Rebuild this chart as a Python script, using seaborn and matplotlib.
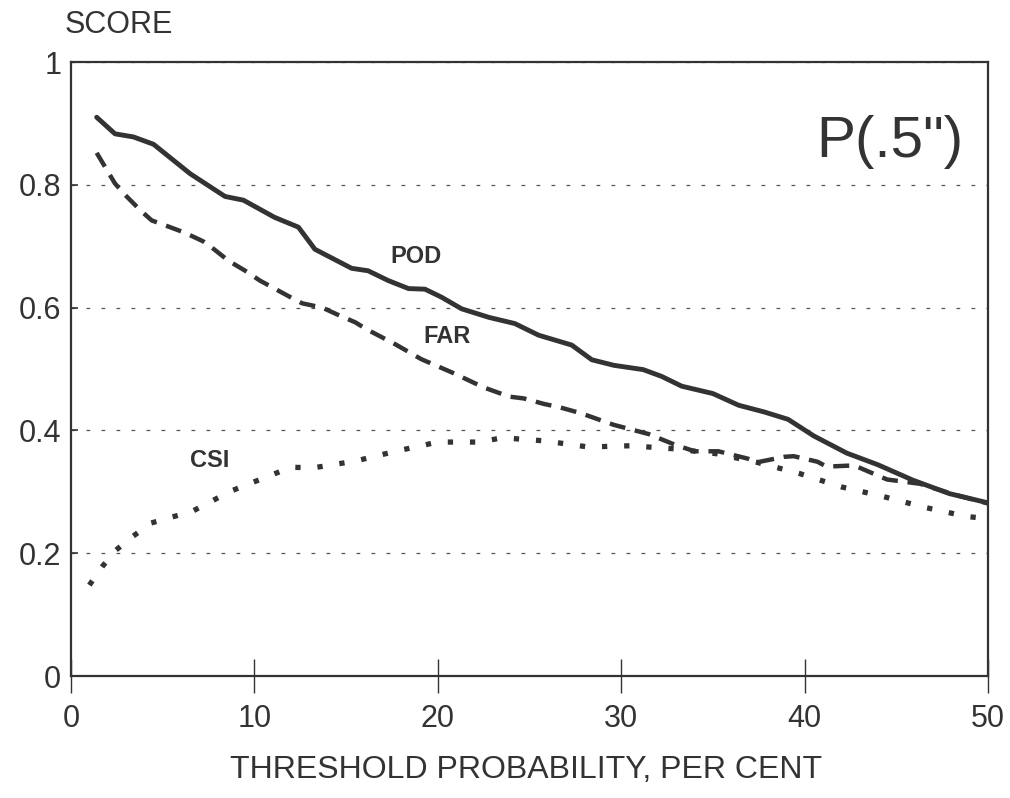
import matplotlib
matplotlib.use('Agg')
import matplotlib.pyplot as plt
import seaborn as sns

# values (threshold %, score)
pod_x = [1.4, 2.4, 3.4, 4.5, 6.5, 8.4, 9.4, 11.1, 12.4, 13.3, 15.3, 16.2, 17.3, 18.4, 19.3,
         20.2, 21.3, 22.8, 24.2, 25.5, 27.3, 28.4, 29.6, 31.2, 32.2, 33.3, 35.0, 36.4, 37.8,
         39.1, 40.5, 42.3, 44.0, 45.9, 47.9, 50.0]
pod_y = [0.910, 0.883, 0.878, 0.866, 0.818, 0.781, 0.775, 0.747, 0.731, 0.695, 0.664, 0.660,
         0.644, 0.631, 0.630, 0.617, 0.598, 0.584, 0.574, 0.555, 0.539, 0.515, 0.506, 0.499,
         0.488, 0.472, 0.460, 0.441, 0.430, 0.418, 0.391, 0.363, 0.344, 0.319, 0.297, 0.282]

far_x = [1.4, 2.4, 3.0, 3.8, 4.4, 5.4, 6.2, 7.2, 7.8, 8.6, 9.5, 10.3, 11.1, 11.9, 12.6, 13.7,
         14.5, 15.5, 16.1, 17.7, 19.1, 20.8, 22.5, 23.9, 24.7, 25.8, 26.6, 27.8, 29.6, 31.5,
         32.9, 34.0, 35.3, 36.9, 37.4, 38.9, 39.4, 40.7, 41.2, 42.7, 44.5, 46.3, 48.1, 50.0]
far_y = [0.852, 0.802, 0.782, 0.758, 0.742, 0.731, 0.722, 0.708, 0.695, 0.676, 0.660, 0.644,
         0.631, 0.618, 0.607, 0.600, 0.589, 0.576, 0.565, 0.540, 0.516, 0.494, 0.470, 0.455,
         0.452, 0.443, 0.438, 0.428, 0.409, 0.394, 0.377, 0.366, 0.366, 0.354, 0.348, 0.357,
         0.358, 0.349, 0.341, 0.343, 0.320, 0.313, 0.296, 0.281]

csi_x = [1.0, 1.7, 2.45, 3.4, 4.35, 5.4, 6.6, 8.7, 10.9, 12.0, 13.2, 15.5, 17.7, 20.0, 22.3,
         23.5, 25.8, 28.2, 30.5, 32.9, 35.2, 37.4, 39.7, 42.0, 44.2, 46.5, 48.8, 50.0]
csi_y = [0.148, 0.178, 0.205, 0.228, 0.249, 0.258, 0.268, 0.301, 0.327, 0.340, 0.339, 0.350,
         0.366, 0.381, 0.381, 0.388, 0.383, 0.373, 0.375, 0.370, 0.362, 0.348, 0.330, 0.308,
         0.293, 0.275, 0.260, 0.256]

y_ticks = [0, 0.2, 0.4, 0.6, 0.8, 1]
y_labels = ['0', '0.2', '0.4', '0.6', '0.8', '1']
x_ticks = [0, 10, 20, 30, 40, 50]

ink = '#333333'
sns.set_style('white')
plt.rcParams['font.family'] = ['Liberation Sans', 'DejaVu Sans']

fig = plt.figure(figsize=(10.1, 7.98), dpi=100)
ax = fig.add_axes([71/1010, 1-676/798, 917/1010, (676-62)/798])

sns.lineplot(x=pod_x, y=pod_y, ax=ax, color=ink, lw=3.5)
sns.lineplot(x=far_x, y=far_y, ax=ax, color=ink, lw=3.2, linestyle=(0, (3.6, 2.2)))
sns.lineplot(x=csi_x, y=csi_y, ax=ax, color=ink, lw=3.8, linestyle=(0, (1, 3.2)))

ax.set_xlim(0, 50)
ax.set_ylim(0, 1)
ax.set_yticks(y_ticks)
ax.set_yticklabels(y_labels)
ax.set_xticks(x_ticks)
ax.yaxis.grid(True, linestyle=(0, (3, 9)), color='#555555', lw=0.9)
ax.tick_params(axis='y', direction='in', length=5, width=1.2, color=ink,
               labelsize=22, labelcolor=ink, pad=7, left=True)
ax.tick_params(axis='x', direction='inout', length=24, width=1.0, color=ink,
               labelsize=22, labelcolor=ink, pad=8, bottom=True)
for s in ax.spines.values():
    s.set_color(ink)
    s.set_linewidth(1.6)

# curve labels and panel title
ax.text(18.8, 0.684, 'POD', fontsize=17, fontweight='bold', color=ink, ha='center', va='center')
ax.text(20.5, 0.553, 'FAR', fontsize=17, fontweight='bold', color=ink, ha='center', va='center')
ax.text(7.55, 0.351, 'CSI', fontsize=17, fontweight='bold', color=ink, ha='center', va='center')
ax.text(0.893, 0.87, 'P(.5")', transform=ax.transAxes, fontsize=42, color=ink,
        ha='center', va='center')

fig.text(65/1010, 1-25/798, 'SCORE', fontsize=22, color=ink, ha='left', va='center')
fig.text(526/1010, 1-770/798, 'THRESHOLD PROBABILITY, PER CENT', fontsize=23, color=ink,
         ha='center', va='center')

plt.savefig('out.png', dpi=100)
